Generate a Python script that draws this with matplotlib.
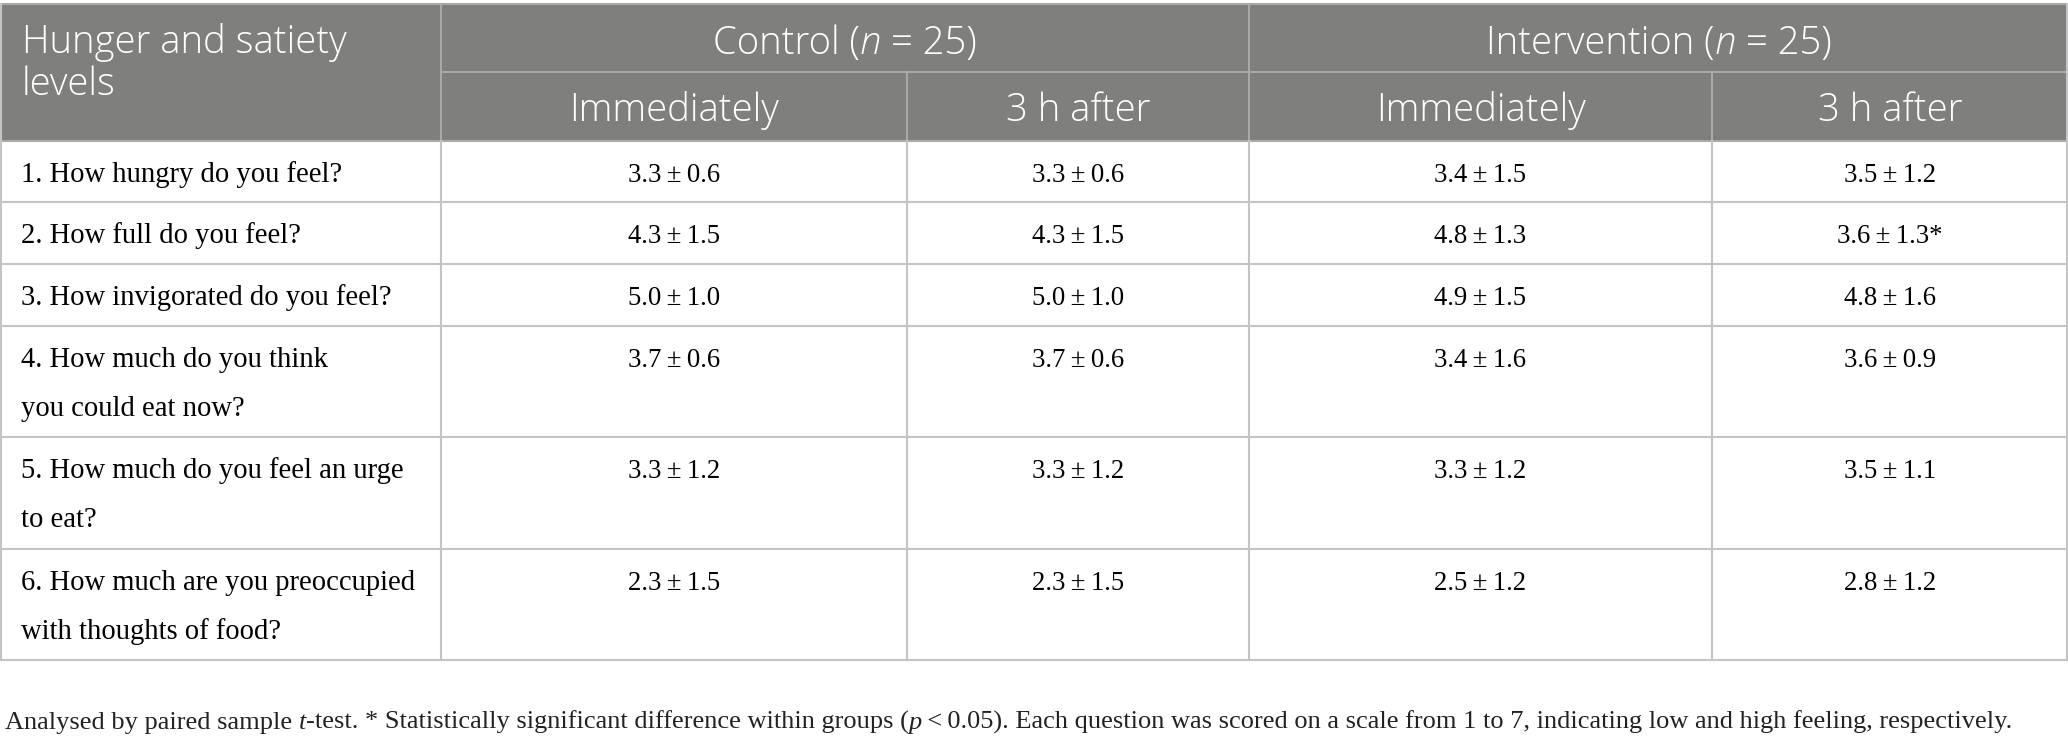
import matplotlib
matplotlib.use("Agg")
import matplotlib.pyplot as plt
from matplotlib.patches import Rectangle

# Table content
questions = [
    ["1. How hungry do you feel?"],
    ["2. How full do you feel?"],
    ["3. How invigorated do you feel?"],
    ["4. How much do you think", "you could eat now?"],
    ["5. How much do you feel an urge", "to eat?"],
    ["6. How much are you preoccupied", "with thoughts of food?"],
]
control_imm_mean = [3.3, 4.3, 5.0, 3.7, 3.3, 2.3]
control_imm_sd = [0.6, 1.5, 1.0, 0.6, 1.2, 1.5]
control_3h_mean = [3.3, 4.3, 5.0, 3.7, 3.3, 2.3]
control_3h_sd = [0.6, 1.5, 1.0, 0.6, 1.2, 1.5]
interv_imm_mean = [3.4, 4.8, 4.9, 3.4, 3.3, 2.5]
interv_imm_sd = [1.5, 1.3, 1.5, 1.6, 1.2, 1.2]
interv_3h_mean = [3.5, 3.6, 4.8, 3.6, 3.5, 2.8]
interv_3h_sd = [1.2, 1.3, 1.6, 0.9, 1.1, 1.2]
interv_3h_sig = [False, True, False, False, False, False]

first_header = ["Hunger and satiety", "levels"]
group_labels = [("Control (", "n", " = 25)"), ("Intervention (", "n", " = 25)")]
time_labels = ["Immediately", "3 h after"]
caption = [("Analysed by paired sample ", False), ("t", True),
           ("-test. * Statistically significant difference within groups (", False),
           ("p", True),
           ("\u2009<\u20090.05). Each question was scored on a scale from 1 to 7, "
            "indicating low and high feeling, respectively.", False)]

# Layout (pixels)
W, H = 2068, 740
col_x = [0, 441, 907, 1249, 1712, 2068]
top, sub_y, head_bot = 4, 72, 141
row_bot = [202, 264, 326, 437, 549, 660]

header_bg = "#7f807e"
head_line = "#a9aaa8"
body_line = "#c4c4c4"
sans = ["Open Sans", "DejaVu Sans"]
serif = ["Liberation Serif", "DejaVu Serif"]
head_fs = 27.5
quest_fs = 20.6
num_fs = 19.3
cap_fs = 19

fig = plt.figure(figsize=(W / 100, H / 100), dpi=100)
ax = fig.add_axes([0, 0, 1, 1])
ax.set_xlim(0, W)
ax.set_ylim(H, 0)
ax.axis("off")

renderer = fig.canvas.get_renderer()


def rich(x, y, parts, ha="left", **kw):
    # parts: list of (text, italic)
    objs = []
    for s, it in parts:
        t = ax.text(0, y, s, va="baseline", ha="left",
                    style="italic" if it else "normal", **kw)
        objs.append(t)
    widths = [t.get_window_extent(renderer).width for t in objs]
    total = sum(widths)
    x0 = x - total / 2 if ha == "center" else x
    for t, w in zip(objs, widths):
        t.set_x(x0)
        x0 += w


# header background
ax.add_patch(Rectangle((0, top), W, head_bot - top, color=header_bg, lw=0))

# header lines
ax.plot([0, W], [top, top], color=head_line, lw=1.5)
ax.plot([col_x[1], W], [sub_y, sub_y], color=head_line, lw=1.5)
ax.plot([col_x[1], col_x[1]], [top, head_bot], color=head_line, lw=1.5)
ax.plot([col_x[3], col_x[3]], [top, head_bot], color=head_line, lw=1.5)
for cx in (col_x[2], col_x[4]):
    ax.plot([cx, cx], [sub_y, head_bot], color=head_line, lw=1.5)
ax.plot([0, W], [head_bot, head_bot], color=head_line, lw=1.5)

# header text
hkw = dict(color="white", fontsize=head_fs, family=sans, fontweight="light")
ax.text(22, 53, first_header[0], va="baseline", **hkw)
ax.text(22, 95, first_header[1], va="baseline", **hkw)
for g, lab in enumerate(group_labels):
    cx = (col_x[1 + 2 * g] + col_x[3 + 2 * g]) / 2
    rich(cx, 54, [(lab[0], False), (lab[1], True), (lab[2], False)], ha="center", **hkw)
for c in range(4):
    cx = (col_x[c + 1] + col_x[c + 2]) / 2
    ax.text(cx, 121, time_labels[c % 2], va="baseline", ha="center", **hkw)

# body
columns = [(control_imm_mean, control_imm_sd, None),
           (control_3h_mean, control_3h_sd, None),
           (interv_imm_mean, interv_imm_sd, None),
           (interv_3h_mean, interv_3h_sd, interv_3h_sig)]
prev = head_bot
for i, q in enumerate(questions):
    base = prev + 41
    for k, line in enumerate(q):
        ax.text(21, base + 49 * k, line, fontsize=quest_fs, family=serif, va="baseline")
    for c, (m, sd, sig) in enumerate(columns):
        s = f"{m[i]:.1f}\u2009\u00b1\u2009{sd[i]:.1f}"
        if sig is not None and sig[i]:
            s += "*"
        cx = (col_x[c + 1] + col_x[c + 2]) / 2
        ax.text(cx, base, s, fontsize=num_fs, family=serif, va="baseline", ha="center")
    ax.plot([0, W], [row_bot[i], row_bot[i]], color=body_line, lw=1.5)
    prev = row_bot[i]

for cx in col_x[1:5]:
    ax.plot([cx, cx], [head_bot, row_bot[-1]], color=body_line, lw=1.5)
ax.plot([0.8, 0.8], [top, row_bot[-1]], color=body_line, lw=1.5)
ax.plot([W - 0.8, W - 0.8], [top, row_bot[-1]], color=body_line, lw=1.5)

# caption
rich(5, 729, caption, fontsize=cap_fs, family=serif, color="#222222")

fig.savefig("out.png", dpi=100)
